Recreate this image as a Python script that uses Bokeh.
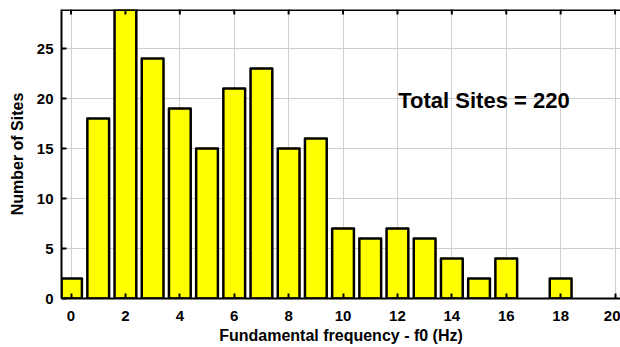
from bokeh.plotting import figure
from bokeh.models import FixedTicker, Label, Range1d, Span
from bokeh.embed import file_html
from bokeh.resources import INLINE

# Histogram of fundamental frequency (1 Hz bins)
freq_bins = [0, 1, 2, 3, 4, 5, 6, 7, 8, 9, 10, 11, 12, 13, 14, 15, 16, 17, 18]
site_counts = [2, 18, 29, 24, 19, 15, 21, 23, 15, 16, 7, 6, 7, 6, 4, 2, 4, 0, 2]
x_ticks = [0, 2, 4, 6, 8, 10, 12, 14, 16, 18, 20]
y_ticks = [0, 5, 10, 15, 20, 25]
total_sites = sum(site_counts)

FONT = "Liberation Sans"
Y_TOP = 28.9

p = figure(width=620, height=347, output_backend="svg", toolbar_location=None,
           x_range=Range1d(-0.35, 20.2), y_range=Range1d(0, Y_TOP),
           min_border_left=61, min_border_right=0, min_border_top=9,
           min_border_bottom=49, background_fill_color="white",
           border_fill_color="white")
p.outline_line_color = None

# empty bins draw nothing
shown = [(b, c) for b, c in zip(freq_bins, site_counts) if c > 0]
p.vbar(x=[b for b, _ in shown], top=[c for _, c in shown], width=0.8,
       fill_color="#FFFF00", line_color="black", line_width=2.5,
       line_join="round")

for ax in (p.xaxis[0], p.yaxis[0]):
    ax.axis_line_width = 2
    ax.axis_line_color = "black"
    ax.major_tick_in = 5
    ax.major_tick_out = 0
    ax.major_tick_line_width = 2
    ax.minor_tick_line_color = None
    ax.major_label_text_font = FONT
    ax.major_label_text_font_style = "bold"
    ax.major_label_text_font_size = "15px"
    ax.major_label_text_color = "black"
    ax.axis_label_text_font = FONT
    ax.axis_label_text_font_style = "bold"
    ax.axis_label_text_font_size = "16px"
    ax.axis_label_text_color = "black"

p.xaxis.ticker = FixedTicker(ticks=x_ticks)
p.yaxis.ticker = FixedTicker(ticks=y_ticks)
p.xaxis.axis_label = "Fundamental frequency - f0 (Hz)"
p.yaxis.axis_label = "Number of Sites"
p.xaxis.major_label_standoff = 12
p.xaxis.axis_label_standoff = 3
p.yaxis.major_label_standoff = 8
p.yaxis.axis_label_standoff = 8

# top box edge with inward ticks
p.add_layout(Span(location=Y_TOP, dimension="width", line_color="black",
                  line_width=3))
p.segment(x0=x_ticks, y0=[Y_TOP] * len(x_ticks), x1=x_ticks,
          y1=[Y_TOP - 0.5] * len(x_ticks), line_color="black", line_width=2)

p.xgrid.ticker = FixedTicker(ticks=x_ticks)
p.ygrid.ticker = FixedTicker(ticks=y_ticks)
p.grid.grid_line_color = "#cfcfcf"
p.grid.grid_line_width = 1

p.add_layout(Label(x=12.03, y=19.8, text=f"Total Sites = {total_sites}",
                   text_font=FONT, text_font_style="bold",
                   text_font_size="22px", text_baseline="middle",
                   text_color="black"))

open("out.html", "w").write(file_html(p, INLINE))
